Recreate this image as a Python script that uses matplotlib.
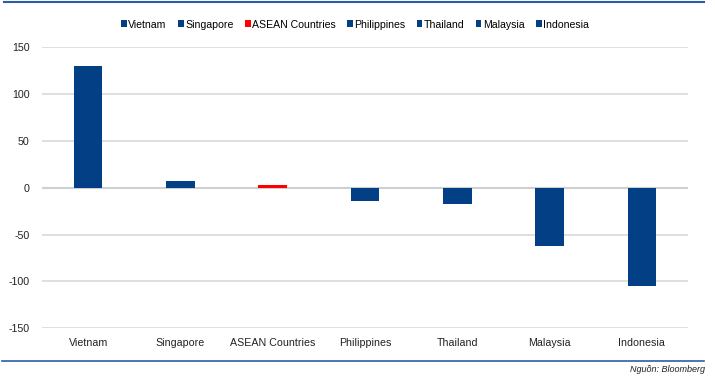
import matplotlib
matplotlib.use("Agg")
import matplotlib.pyplot as plt
from matplotlib.lines import Line2D
from matplotlib.patches import Patch

countries = ["Vietnam", "Singapore", "ASEAN Countries", "Philippines",
             "Thailand", "Malaysia", "Indonesia"]
values = [130, 7.5, 2.5, -14, -17, -62, -105]
bar_colors = ["#033f85", "#033f85", "#ff0000", "#033f85",
              "#033f85", "#033f85", "#033f85"]
yticks = [-150, -100, -50, 0, 50, 100, 150]

plt.rcParams["font.family"] = ["Liberation Sans", "DejaVu Sans"]

fig = plt.figure(figsize=(7.15, 3.82), dpi=100)
ax = fig.add_axes([42 / 715, 1 - 328.3 / 382, 646 / 715, 281 / 382])

x = list(range(len(countries)))
ax.bar(x, values, width=0.31, color=bar_colors, zorder=3)

ax.set_xlim(-0.5, len(countries) - 0.5)
ax.set_ylim(-150, 150)
ax.set_yticks(yticks)
ax.set_yticklabels([str(v) for v in yticks], fontsize=7.7, color="#222222")
ax.set_xticks(x)
ax.set_xticklabels(countries, fontsize=7.7, color="#222222")
ax.tick_params(axis="both", length=0)
ax.tick_params(axis="y", pad=9)
ax.tick_params(axis="x", pad=7)
for s in ax.spines.values():
    s.set_visible(False)
ax.grid(axis="y", color="#d9d9d9", linewidth=1.2, zorder=0)
ax.axhline(0, color="#cfcfcf", linewidth=1.5, zorder=2)

handles = [Patch(facecolor=c, edgecolor="none") for c in bar_colors]
fig.legend(handles, countries, loc="center", bbox_to_anchor=(355 / 715, 1 - 24.5 / 382),
           ncol=7, frameon=False, fontsize=7.6, handlelength=0.55, handleheight=0.6,
           handletextpad=0.15, columnspacing=1.05)

# frame lines of the report page
fig.add_artist(Line2D([4 / 715, 704 / 715], [1 - 2 / 382, 1 - 2 / 382],
                      color="#2a5ca8", linewidth=1.5))
fig.add_artist(Line2D([2 / 715, 704 / 715], [1 - 361 / 382, 1 - 361 / 382],
                      color="#2a5ca8", linewidth=1.2))
fig.text(705 / 715, 1 - 369 / 382, "Nguồn: Bloomberg", ha="right", va="center",
         fontsize=6.5, style="italic", color="#222222")

fig.savefig("out.png", dpi=100)
